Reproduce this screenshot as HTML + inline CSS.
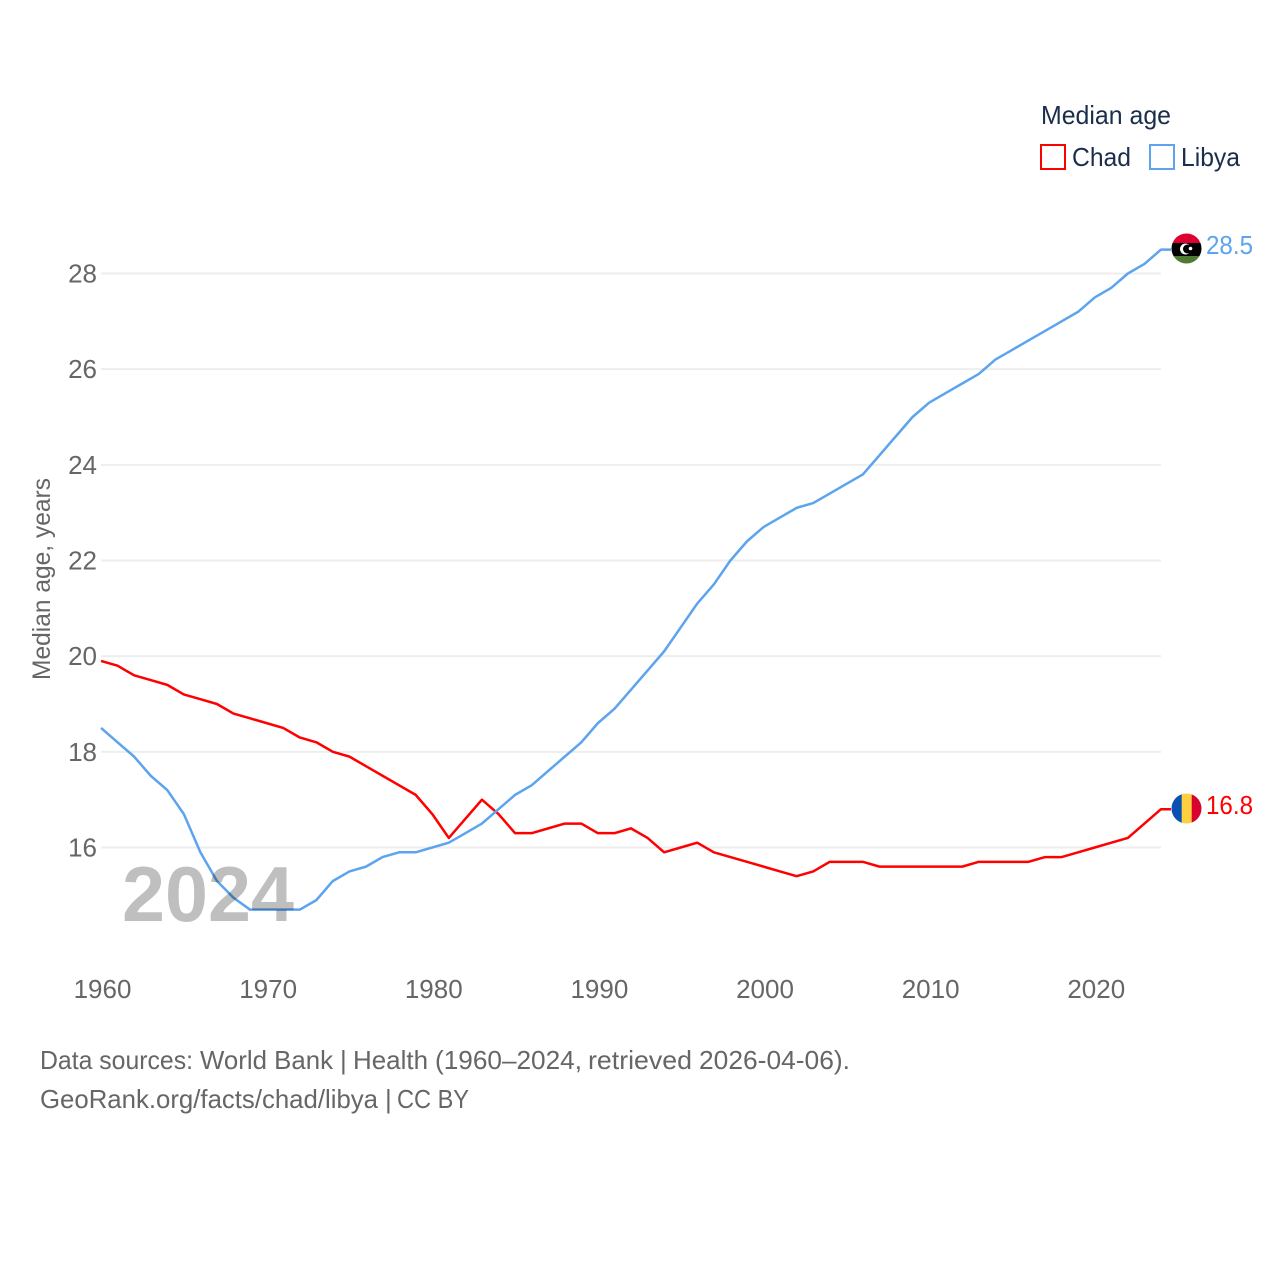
<!DOCTYPE html>
<html lang="en">
<head>
<meta charset="utf-8">
<title>Median age: Chad and Libya</title>
<style>
  html, body { margin: 0; padding: 0; background: #fff; }
  body { width: 1280px; height: 1280px; overflow: hidden; }
  svg { display: block; font-family: "Liberation Sans", sans-serif; }
</style>
</head>
<body>
<svg id="chart" xmlns="http://www.w3.org/2000/svg" width="1280" height="1280" viewBox="0 0 1280 1280">
  <defs>
    <clipPath id="clip-libya"><circle cx="1186.500" cy="248.500" r="15"/></clipPath>
    <clipPath id="clip-chad"><circle cx="1186.500" cy="808.500" r="15"/></clipPath>
  </defs>
  <rect x="0" y="0" width="1280" height="1280" fill="#ffffff"/>
  <g id="grid"></g>
  <g id="y-ticks"></g>
  <g id="x-ticks"></g>
  <g id="series"></g>

  <text x="122" y="921" font-size="78" font-weight="700" fill="#000000" fill-opacity="0.25" textLength="172" lengthAdjust="spacingAndGlyphs">2024</text>

  <text transform="translate(50 680) rotate(-90)" font-size="25" fill="#666666" textLength="202" lengthAdjust="spacingAndGlyphs">Median age, years</text>

  <g>
    <text x="1041" y="124" font-size="26" fill="#1a2e4c" textLength="130" lengthAdjust="spacingAndGlyphs">Median age</text>
    <g>
      <rect x="1041" y="145" width="24" height="24" fill="#ffffff" stroke="#ff0000" stroke-width="2"/>
      <text x="1072" y="166" font-size="26" fill="#1a2e4c" textLength="59" lengthAdjust="spacingAndGlyphs">Chad</text>
    </g>
    <g>
      <rect x="1150" y="145" width="24" height="24" fill="#ffffff" stroke="#5ca4ee" stroke-width="2"/>
      <text x="1181" y="166" font-size="26" fill="#1a2e4c" textLength="59" lengthAdjust="spacingAndGlyphs">Libya</text>
    </g>
  </g>

  <g clip-path="url(#clip-libya)">
    <rect x="1171" y="233" width="31" height="10.500" fill="#dd0030"/>
    <rect x="1171" y="243" width="31" height="13.500" fill="#000000"/>
    <rect x="1171" y="256" width="31" height="8" fill="#4f7a32"/>
    <circle cx="1185.500" cy="249" r="5.500" fill="#ffffff"/>
    <circle cx="1187.500" cy="249" r="4.500" fill="#000000"/>
    <circle cx="1190.500" cy="248.500" r="1.800" fill="#ffffff"/>
  </g>
  <g clip-path="url(#clip-chad)">
    <rect x="1171" y="793" width="11" height="31" fill="#0a50b4"/>
    <rect x="1181.700" y="793" width="10.200" height="31" fill="#fed040"/>
    <rect x="1191.700" y="793" width="10.300" height="31" fill="#d8002c"/>
  </g>

  <text id="label-libya" x="1206" y="254" font-size="26" fill="#5ca4ee" textLength="47" lengthAdjust="spacingAndGlyphs"></text>
  <text id="label-chad" x="1206" y="814" font-size="26" fill="#ff0000" textLength="47" lengthAdjust="spacingAndGlyphs"></text>

  <g>
    <text y="1069" font-size="26" fill="#666666" lengthAdjust="spacingAndGlyphs"><tspan x="40" textLength="153" lengthAdjust="spacingAndGlyphs">Data sources:</tspan> <tspan x="200" textLength="133" lengthAdjust="spacingAndGlyphs">World Bank</tspan> <tspan x="340">|</tspan> <tspan x="353" textLength="75" lengthAdjust="spacingAndGlyphs">Health</tspan> <tspan x="435" textLength="147" lengthAdjust="spacingAndGlyphs">(1960–2024,</tspan> <tspan x="588" textLength="104" lengthAdjust="spacingAndGlyphs">retrieved</tspan> <tspan x="699" textLength="151" lengthAdjust="spacingAndGlyphs">2026-04-06).</tspan></text>
    <text y="1108" font-size="26" fill="#666666"><tspan x="40" textLength="338" lengthAdjust="spacingAndGlyphs">GeoRank.org/facts/chad/libya</tspan> <tspan x="385">|</tspan> <tspan x="397" textLength="72" lengthAdjust="spacingAndGlyphs">CC BY</tspan></text>
  </g>
</svg>

<script>
const years = [1960,1961,1962,1963,1964,1965,1966,1967,1968,1969,1970,1971,1972,1973,1974,1975,1976,1977,1978,1979,1980,1981,1982,1983,1984,1985,1986,1987,1988,1989,1990,1991,1992,1993,1994,1995,1996,1997,1998,1999,2000,2001,2002,2003,2004,2005,2006,2007,2008,2009,2010,2011,2012,2013,2014,2015,2016,2017,2018,2019,2020,2021,2022,2023,2024];
const chadValues = [19.9,19.8,19.6,19.5,19.4,19.2,19.1,19.0,18.8,18.7,18.6,18.5,18.3,18.2,18.0,17.9,17.7,17.5,17.3,17.1,16.7,16.2,16.6,17.0,16.7,16.3,16.3,16.4,16.5,16.5,16.3,16.3,16.4,16.2,15.9,16.0,16.1,15.9,15.8,15.7,15.6,15.5,15.4,15.5,15.7,15.7,15.7,15.6,15.6,15.6,15.6,15.6,15.6,15.7,15.7,15.7,15.7,15.8,15.8,15.9,16.0,16.1,16.2,16.5,16.8];
const libyaValues = [18.5,18.2,17.9,17.5,17.2,16.7,15.9,15.3,14.95,14.7,14.7,14.7,14.7,14.9,15.3,15.5,15.6,15.8,15.9,15.9,16.0,16.1,16.3,16.5,16.8,17.1,17.3,17.6,17.9,18.2,18.6,18.9,19.3,19.7,20.1,20.6,21.1,21.5,22.0,22.4,22.7,22.9,23.1,23.2,23.4,23.6,23.8,24.2,24.6,25.0,25.3,25.5,25.7,25.9,26.2,26.4,26.6,26.8,27.0,27.2,27.5,27.7,28.0,28.2,28.5];
const yTickValues = [16,18,20,22,24,26,28];
const xTickValues = [1960,1970,1980,1990,2000,2010,2020];

const NS = 'http://www.w3.org/2000/svg';

function xScale(year) {
  return 101 + (year - 1960) * (1060 / 64);
}
function yScale(value) {
  return 847.5 - (value - 16) * (574 / 12);
}

const gridGroup = document.getElementById('grid');
const yTickGroup = document.getElementById('y-ticks');
const xTickGroup = document.getElementById('x-ticks');
const seriesGroup = document.getElementById('series');

yTickValues.forEach(function (v) {
  const line = document.createElementNS(NS, 'line');
  
  
  line.setAttribute('x1', 101);
  line.setAttribute('x2', 1161);
  line.setAttribute('y1', yScale(v));
  line.setAttribute('y2', yScale(v));
  line.setAttribute('stroke', '#eeeeee');
  line.setAttribute('stroke-width', 2);
  gridGroup.appendChild(line);

  const label = document.createElementNS(NS, 'text');
  
  
  label.setAttribute('x', 97);
  label.setAttribute('y', yScale(v) + 9);
  label.setAttribute('text-anchor', 'end');
  label.setAttribute('font-size', 26);
  label.setAttribute('fill', '#666666');
  label.textContent = String(v);
  yTickGroup.appendChild(label);
});

xTickValues.forEach(function (y) {
  const label = document.createElementNS(NS, 'text');
  
  
  label.setAttribute('x', xScale(y) + 1.5);
  label.setAttribute('y', 998);
  label.setAttribute('text-anchor', 'middle');
  label.setAttribute('font-size', 26);
  label.setAttribute('fill', '#666666');
  label.textContent = String(y);
  xTickGroup.appendChild(label);
});

function linePoints(values) {
  const pts = values.map(function (v, i) {
    return xScale(years[i]).toFixed(2) + ',' + yScale(v).toFixed(2);
  });
  const last = values[values.length - 1];
  pts.push('1171,' + yScale(last).toFixed(2));
  return pts.join(' ');
}

const chadLine = document.createElementNS(NS, 'polyline');


chadLine.setAttribute('points', linePoints(chadValues));
chadLine.setAttribute('fill', 'none');
chadLine.setAttribute('stroke', '#ff0000');
chadLine.setAttribute('stroke-width', 2.5);
chadLine.setAttribute('stroke-linejoin', 'round');
seriesGroup.appendChild(chadLine);

const libyaLine = document.createElementNS(NS, 'polyline');


libyaLine.setAttribute('points', linePoints(libyaValues));
libyaLine.setAttribute('fill', 'none');
libyaLine.setAttribute('stroke', '#5ca4ee');
libyaLine.setAttribute('stroke-width', 2.5);
libyaLine.setAttribute('stroke-linejoin', 'round');
seriesGroup.appendChild(libyaLine);

document.getElementById('label-libya').textContent = libyaValues[libyaValues.length - 1].toFixed(1);
document.getElementById('label-chad').textContent = chadValues[chadValues.length - 1].toFixed(1);
</script>
</body>
</html>
